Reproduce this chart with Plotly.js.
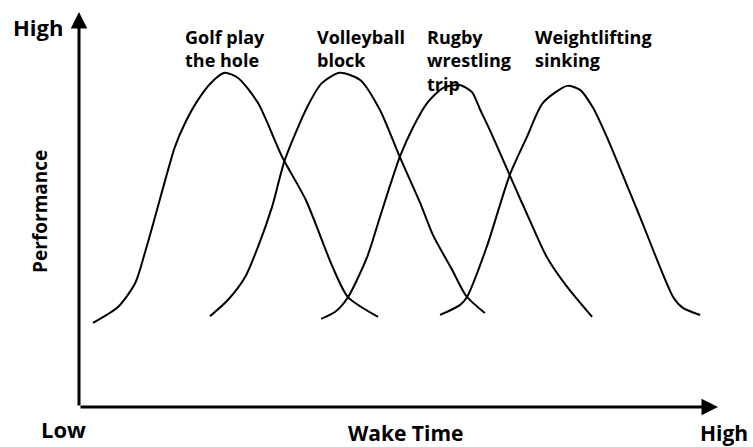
<!DOCTYPE html>
<html>
<head>
<meta charset="utf-8">
<script src="https://cdn.plot.ly/plotly-3.0.1.min.js"></script>
<style>html,body{margin:0;padding:0;background:#fff;}#chart{width:753px;height:447px;}</style>
</head>
<body>
<div id="chart"></div>
<script>
// Wake time (0-100) vs performance (0-100)
const golfX = [2.2, 6.1, 8.8, 10.3, 11.9, 13.5, 15.0, 16.6, 18.6, 20.8, 22.8, 24.9, 28.0, 31.8, 35.5, 39.7, 42.1, 46.8];
const golfY = [21.3, 25.3, 31.4, 39.0, 48.1, 57.5, 65.8, 71.9, 77.7, 82.3, 84.6, 83.3, 77.0, 63.3, 52.4, 35.4, 27.8, 22.8];

const volleyX = [20.5, 23.3, 26.0, 28.0, 30.2, 32.2, 35.7, 38.0, 40.8, 44.0, 47.1, 50.2, 53.4, 55.4, 58.4, 60.6, 63.5];
const volleyY = [23.0, 27.1, 32.9, 40.5, 50.6, 62.5, 75.9, 82.0, 84.6, 82.8, 75.2, 63.3, 51.6, 43.5, 34.7, 28.1, 23.8];

const rugbyX = [37.9, 40.1, 42.1, 45.1, 47.1, 50.2, 52.3, 54.5, 57.0, 59.6, 61.5, 62.8, 64.3, 67.4, 71.0, 73.2, 76.4, 80.3];
const rugbyY = [22.3, 24.1, 27.8, 38.0, 48.1, 63.3, 70.9, 77.0, 80.8, 81.5, 79.7, 75.2, 70.1, 58.7, 45.6, 38.0, 30.4, 22.8];

const liftX = [56.5, 59.6, 60.7, 63.8, 67.4, 70.1, 72.6, 76.4, 78.4, 80.4, 82.6, 87.8, 93.0, 94.5, 97.2];
const liftY = [23.3, 25.8, 27.8, 40.5, 58.7, 68.4, 77.0, 81.3, 80.3, 75.9, 68.4, 48.1, 27.8, 25.1, 23.3];

const seriesNames = ["Golf play<br>the hole", "Volleyball<br>block", "Rugby<br>wrestling<br>trip", "Weightlifting<br>sinking"];
const labelX = [16.2, 36.9, 54.2, 71.0];
const labelY = [97.2, 97.2, 97.2, 97.2];

const axisLabels = {yHigh: "High", yTitle: "Performance", xLow: "Low", xTitle: "Wake Time", xHigh: "High"};

const FONT = "'Open Sans', Lato, sans-serif";
const line = {color: "#000", width: 2, shape: "spline", smoothing: 0.7};
const data = [[golfX, golfY], [volleyX, volleyY], [rugbyX, rugbyY], [liftX, liftY]].map(([x, y], i) => ({
  x: x, y: y, type: "scatter", mode: "lines", line: line, name: seriesNames[i], hoverinfo: "skip"
}));

const annotations = [];
seriesNames.forEach((t, i) => annotations.push({
  x: labelX[i], y: labelY[i], xref: "x", yref: "y", text: "<b>" + t + "</b>", showarrow: false,
  xanchor: "left", yanchor: "top", align: "left", font: {family: FONT, size: 18, color: "#000"}
}));
// axis arrows
annotations.push({x: 100, y: 0, ax: 0, ay: 0, xref: "x", yref: "y", axref: "x", ayref: "y", text: "",
  showarrow: true, arrowhead: 2, arrowsize: 1.1, arrowwidth: 3, arrowcolor: "#000", standoff: 0, startstandoff: 0});
annotations.push({x: 0, y: 100, ax: 0, ay: 0, xref: "x", yref: "y", axref: "x", ayref: "y", text: "",
  showarrow: true, arrowhead: 2, arrowsize: 1.1, arrowwidth: 3, arrowcolor: "#000", standoff: 0, startstandoff: 0});
// axis end labels and titles (paper coordinates)
const big = {family: FONT, size: 22, color: "#000"};
const lab = (x, y, t, extra) => Object.assign({x: x, y: y, xref: "paper", yref: "paper", text: "<b>" + t + "</b>",
  showarrow: false, xanchor: "center", yanchor: "middle", font: big}, extra || {});
annotations.push(lab(-0.064, 0.962, axisLabels.yHigh));
annotations.push(lab(-0.0235, -0.055, axisLabels.xLow));
annotations.push(lab(0.5117, -0.066, axisLabels.xTitle, {font: {family: FONT, size: 21, color: "#000"}}));
annotations.push(lab(1.0095, -0.066, axisLabels.xHigh, {font: {family: FONT, size: 21, color: "#000"}}));
annotations.push(lab(-0.061, 0.494, axisLabels.yTitle, {textangle: -90, font: {family: FONT, size: 19, color: "#000"}}));

const hidden = {range: [0, 100], showgrid: false, zeroline: false, showline: false, showticklabels: false, ticks: "", fixedrange: true};
const layout = {
  width: 753, height: 447,
  margin: {l: 79, r: 35, t: 12, b: 40},
  paper_bgcolor: "#fff", plot_bgcolor: "#fff",
  showlegend: false,
  xaxis: Object.assign({}, hidden),
  yaxis: Object.assign({}, hidden),
  annotations: annotations
};
Plotly.newPlot("chart", data, layout, {staticPlot: true, displayModeBar: false});
</script>
</body>
</html>
